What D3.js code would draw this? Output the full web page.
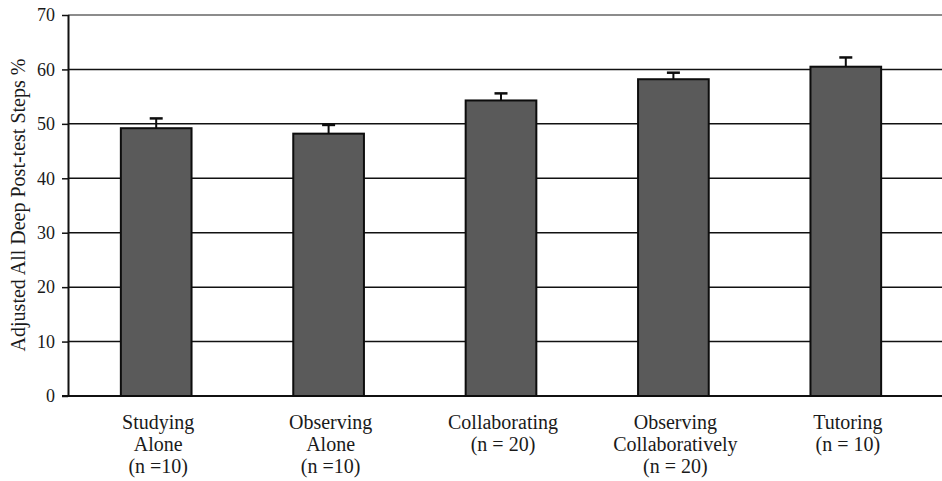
<!DOCTYPE html>
<html>
<head>
<meta charset="utf-8">
<script src="https://cdn.jsdelivr.net/npm/d3@7"></script>
<style>
  html, body { margin: 0; padding: 0; background: #fff; }
  svg { display: block; }
  text { font-family: "Liberation Serif", "DejaVu Serif", serif; fill: #1a1a1a; }
</style>
</head>
<body>
<svg id="chart" width="942" height="481"></svg>
<script>
// Condition labels (one array entry per text line) and adjusted scores
const categories = [
  ["Studying", "Alone", "(n =10)"],
  ["Observing", "Alone", "(n =10)"],
  ["Collaborating", "(n = 20)"],
  ["Observing", "Collaboratively", "(n = 20)"],
  ["Tutoring", "(n = 10)"]
];
const means = [49.2, 48.2, 54.3, 58.2, 60.5];
const errors = [1.8, 1.6, 1.3, 1.2, 1.7];
const yTicks = [0, 10, 20, 30, 40, 50, 60, 70];
const yTitle = "Adjusted All Deep Post-test Steps %";

const svg = d3.select("#chart");
const plotLeft = 68, plotRight = 942, plotTop = 15, plotBottom = 396;

const x = d3.scaleBand()
  .domain(d3.range(categories.length))
  .range([70, 932])
  .paddingInner(0.59)
  .paddingOuter(0.295);

const y = d3.scaleLinear().domain([0, 70]).range([plotBottom, plotTop]);

// Horizontal gridlines (the top one drawn lighter)
svg.append("g").selectAll("line")
  .data(yTicks.filter(t => t > 0))
  .join("line")
  .attr("x1", plotLeft).attr("x2", plotRight)
  .attr("y1", d => y(d)).attr("y2", d => y(d))
  .attr("stroke", d => d === 70 ? "#8c8c8c" : "#111")
  .attr("stroke-width", d => d === 70 ? 2 : 1.5);

// Y axis with left ticks
const yAxis = d3.axisLeft(y).tickValues(yTicks).tickSize(6).tickPadding(7).tickFormat(d3.format("d"));
const gy = svg.append("g").attr("transform", `translate(${plotLeft},0)`).call(yAxis);
gy.select(".domain").attr("stroke", "#111").attr("stroke-width", 2).attr("d", `M0.5,${plotTop}V${plotBottom}`);
gy.selectAll(".tick line").attr("stroke", "#111").attr("stroke-width", 1.5);
gy.selectAll(".tick text")
  .style("font-family", '"Liberation Serif", serif')
  .style("font-size", "18px").attr("fill", "#1a1a1a");

// Baseline
svg.append("line")
  .attr("x1", plotLeft - 6).attr("x2", plotRight)
  .attr("y1", y(0)).attr("y2", y(0))
  .attr("stroke", "#111").attr("stroke-width", 2);

// Bars
svg.append("g").selectAll("rect")
  .data(means)
  .join("rect")
  .attr("x", (d, i) => x(i))
  .attr("y", d => y(d))
  .attr("width", x.bandwidth())
  .attr("height", d => y(0) - y(d))
  .attr("fill", "#5a5a5a")
  .attr("stroke", "#0d0d0d")
  .attr("stroke-width", 2);

// Error bars (upper whisker with cap)
const eb = svg.append("g").selectAll("g")
  .data(means.map((m, i) => ({ m, e: errors[i], i })))
  .join("g");
eb.append("line")
  .attr("x1", d => x(d.i) + x.bandwidth() / 2)
  .attr("x2", d => x(d.i) + x.bandwidth() / 2)
  .attr("y1", d => y(d.m))
  .attr("y2", d => y(d.m + d.e))
  .attr("stroke", "#0d0d0d").attr("stroke-width", 2);
eb.append("line")
  .attr("x1", d => x(d.i) + x.bandwidth() / 2 - 6.5)
  .attr("x2", d => x(d.i) + x.bandwidth() / 2 + 6.5)
  .attr("y1", d => y(d.m + d.e))
  .attr("y2", d => y(d.m + d.e))
  .attr("stroke", "#0d0d0d").attr("stroke-width", 2.5);

// Category labels, several lines each
const labels = svg.append("g").selectAll("text")
  .data(categories)
  .join("text")
  .attr("text-anchor", "middle")
  .style("font-size", "20px")
  .attr("transform", (d, i) => `translate(${x(i) + x.bandwidth() / 2 + 2},429)`);
labels.selectAll("tspan")
  .data(d => d)
  .join("tspan")
  .attr("x", 0)
  .attr("y", (d, j) => j * 22)
  .text(d => d);

// Y axis title
svg.append("text")
  .attr("transform", `translate(25,205) rotate(-90)`)
  .attr("text-anchor", "middle")
  .style("font-size", "20px")
  .text(yTitle);
</script>
</body>
</html>
